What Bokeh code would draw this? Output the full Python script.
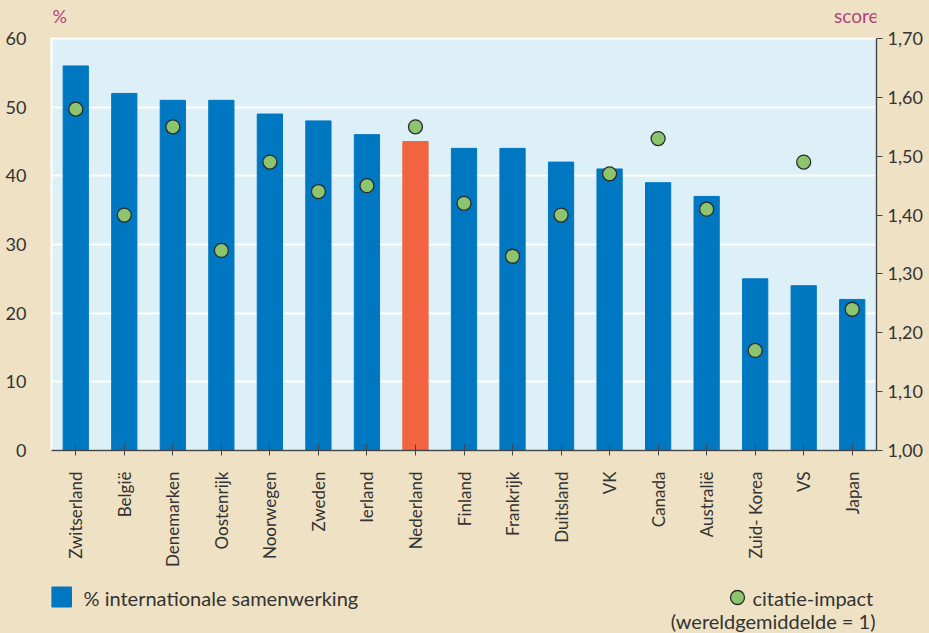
import math
from bokeh.plotting import figure
from bokeh.layouts import column
from bokeh.models import (Range1d, LinearAxis, FixedTicker, CustomJSTickFormatter,
                          ColumnDataSource, FactorRange)
from bokeh.core.properties import value
from bokeh.embed import file_html
from bokeh.resources import INLINE

countries = ["Zwitserland", "België", "Denemarken", "Oostenrijk", "Noorwegen", "Zweden",
             "Ierland", "Nederland", "Finland", "Frankrijk", "Duitsland", "VK", "Canada",
             "Australië", "Zuid- Korea", "VS", "Japan"]
pct_intl = [56, 52, 51, 51, 49, 48, 46, 45, 44, 44, 42, 41, 39, 37, 25, 24, 22]
citation = [1.58, 1.40, 1.55, 1.34, 1.49, 1.44, 1.45, 1.55, 1.42, 1.33, 1.40, 1.47, 1.53,
            1.41, 1.17, 1.49, 1.24]
left_ticks = [0, 10, 20, 30, 40, 50, 60]
right_ticks = [1.0, 1.1, 1.2, 1.3, 1.4, 1.5, 1.6, 1.7]
highlight = "Nederland"

BEIGE = "#EFE1C4"
PLOTBG = "#DDF0F7"
BLUE = "#0077C1"
ORANGE = "#F26441"
GREEN = "#8DC46E"
TXT = "#333333"
MAG = "#B0467C"
FONT = "Lato"
W = 929
BL, BR = 51, 53  # left / right borders around the plot frame


def strip(height):
    # x range expressed in page pixels of the frame area
    f = figure(width=W, height=height, x_range=Range1d(BL, W - BR), y_range=Range1d(height, 0),
               output_backend="svg", toolbar_location=None, min_border=0,
               min_border_left=BL, min_border_right=BR)
    f.axis.visible = False
    f.grid.visible = False
    f.outline_line_color = None
    f.background_fill_color = BEIGE
    f.border_fill_color = BEIGE
    return f


top = strip(28)
top.text(x=[52], y=[15], text=["%"], text_font=value(FONT), text_font_size="18px",
         text_color=MAG, text_baseline="middle", text_align="left")
top.text(x=[878], y=[15], text=["score"], text_font=value(FONT), text_font_size="19px",
         text_color=MAG, text_baseline="middle", text_align="right")

colors = [ORANGE if c == highlight else BLUE for c in countries]
src = ColumnDataSource(dict(x=countries, pct=pct_intl, score=citation, color=colors))

p = figure(x_range=FactorRange(*countries, range_padding=0), y_range=Range1d(0, 60),
           width=W, height=547, output_backend="svg", toolbar_location=None,
           min_border_left=BL, min_border_right=BR, min_border_top=10, min_border_bottom=125)
p.extra_y_ranges = {"score": Range1d(1.0, 1.7)}
p.background_fill_color = PLOTBG
p.border_fill_color = BEIGE
p.outline_line_color = "white"
p.outline_line_width = 2

p.vbar(x="x", top="pct", width=0.52, color="color", source=src)
p.scatter(x="x", y="score", y_range_name="score", size=14, fill_color=GREEN,
          line_color="#2b2b2b", line_width=1.3, source=src)

ya = p.yaxis[0]
ya.ticker = FixedTicker(ticks=left_ticks)
ya.axis_line_color = None
ya.major_tick_line_color = None
ya.minor_tick_line_color = None
ya.major_label_standoff = 19
ya.major_label_text_font = FONT
ya.major_label_text_font_size = "18px"
ya.major_label_text_color = TXT

ra = LinearAxis(y_range_name="score", ticker=FixedTicker(ticks=right_ticks),
                formatter=CustomJSTickFormatter(code="return tick.toFixed(2).replace('.', ',');"))
ra.axis_line_color = "#444444"
ra.axis_line_width = 1.5
ra.major_tick_line_color = "#444444"
ra.major_tick_out = 6
ra.major_tick_in = 0
ra.minor_tick_line_color = None
ra.major_label_standoff = 5
ra.major_label_text_font = FONT
ra.major_label_text_font_size = "18px"
ra.major_label_text_color = TXT
p.add_layout(ra, "right")

xa = p.xaxis[0]
xa.axis_line_color = "#444444"
xa.axis_line_width = 1.5
xa.major_tick_line_color = "#444444"
xa.major_tick_in = 6
xa.major_tick_out = 5
xa.major_label_orientation = math.pi / 2
xa.major_label_standoff = 16
xa.major_label_text_font = FONT
xa.major_label_text_font_size = "17px"
xa.major_label_text_color = TXT

p.xgrid.grid_line_color = None
p.ygrid.grid_line_color = "white"
p.ygrid.grid_line_width = 2

lg = strip(58)
lg.rect(x=[61], y=[21.5], width=20, height=20, color=BLUE)
lg.scatter(x=[737], y=[22], size=14, fill_color=GREEN, line_color="#2b2b2b", line_width=1.3)
lg.text(x=[83], y=[22], text=["% internationale samenwerking"], text_font=value(FONT),
        text_font_size="20px", text_color=TXT, text_baseline="middle", text_align="left")
lg.text(x=[752], y=[22], text=["citatie-impact"], text_font=value(FONT),
        text_font_size="20px", text_color=TXT, text_baseline="middle", text_align="left")
lg.text(x=[875], y=[45], text=["(wereldgemiddelde = 1)"], text_font=value(FONT),
        text_font_size="20px", text_color=TXT, text_baseline="middle", text_align="right")

layout = column(top, p, lg, spacing=0)
html = file_html(layout, INLINE)
html += ("<style>html, body { margin: 0 !important; padding: 0 !important; "
         "background-color: %s !important; overflow: hidden; }</style>" % BEIGE)
open("out.html", "w").write(html)
